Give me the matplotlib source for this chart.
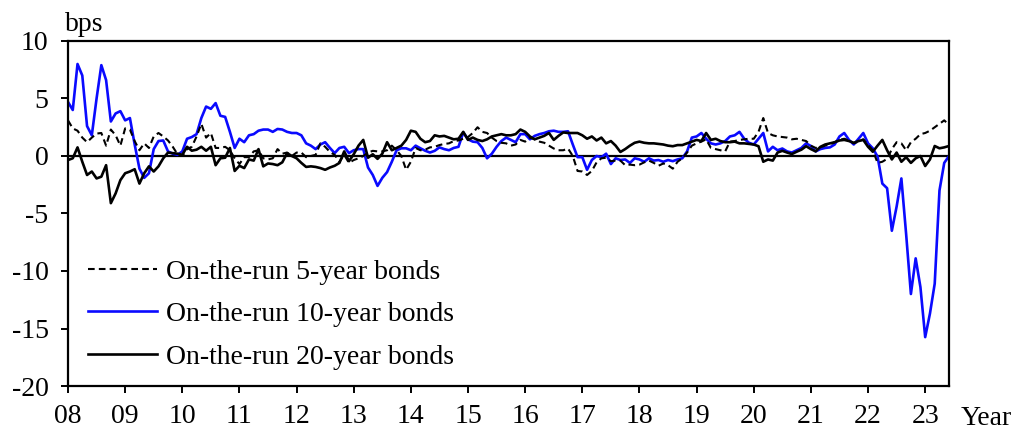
#!/usr/bin/env python3
"""Liquidity-premium spreads of on-the-run JGBs, 2008-2023 (monthly, bps)."""

import matplotlib

matplotlib.use("Agg")
import matplotlib.pyplot as plt
import numpy as np

START_YEAR = 2008
TICK_YEARS = list(range(2008, 2024))
TICK_LABELS = [f"{y % 100:02d}" for y in TICK_YEARS]

# monthly values, Jan 2008 .. Jun 2023 (bps)
bond_5y = [
    3.1, 2.4, 2.2, 1.6, 1.2, 1.6, 1.95, 2.0, 0.9, 2.3, 1.8, 0.9,
    2.4, 2.3, 1.3, 0.5, 1.1, 0.7, 1.7, 2.0, 1.7, 1.35, 0.8, 0.15,
    0.0, 0.6, 0.8, 1.7, 2.8, 1.6, 2.0, 0.7, 0.7, 0.8, 0.5, -0.2,
    -0.7, -0.1, -0.1, 0.4, 0.5, -0.2, -0.3, -0.2, 0.6, 0.2, 0.3, 0.0,
    0.3, 0.3, -0.1, 0.0, 0.1, 1.1, 0.8, 0.35, 0.1, -0.5, 0.1, -0.6,
    -0.35, -0.2, 0.0, 0.3, 0.45, 0.4, 0.4, 0.5, 0.9, 0.5, 0.0, -1.2,
    -0.5, 0.7, 0.5, 0.55, 0.75, 0.8, 0.95, 1.05, 1.1, 1.3, 1.35, 1.5,
    1.65, 2.0, 2.5, 2.1, 2.0, 1.6, 1.3, 1.15, 1.1, 0.9, 1.0, 1.4,
    1.25, 1.6, 1.45, 1.25, 1.15, 0.9, 0.65, 0.5, 0.5, 0.65, 0.0, -1.3,
    -1.35, -1.65, -1.3, -0.55, -0.2, -0.15, -0.45, -0.4, -0.4, -0.8, -0.75, -0.8,
    -0.75, -0.55, -0.4, -0.6, -0.85, -0.65, -0.8, -1.1, -0.5, -0.2, 0.3, 0.9,
    1.1, 1.25, 1.45, 0.7, 0.6, 0.5, 0.4, 1.25, 1.3, 1.4, 1.45, 1.5,
    1.5, 2.1, 3.3, 2.0, 1.8, 1.7, 1.65, 1.6, 1.45, 1.5, 1.4, 1.3,
    0.9, 0.7, 0.75, 0.9, 1.0, 1.2, 1.4, 1.5, 1.35, 1.1, 1.25, 1.45,
    0.96, 0.5, -0.6, -0.5, -0.25, 0.6, 1.2, 1.1, 0.5, 1.2, 1.5, 1.9,
    2.0, 2.2, 2.5, 2.8, 3.1, 2.7,
]

bond_10y = [
    4.7, 4.0, 8.0, 7.0, 2.6, 1.8, 5.0, 7.9, 6.6, 3.0, 3.7, 3.9,
    3.1, 3.3, 1.0, -1.1, -1.9, -1.5, 0.6, 1.3, 1.35, 0.4, 0.2, 0.1,
    0.4, 1.5, 1.65, 1.9, 3.3, 4.3, 4.1, 4.6, 3.5, 3.4, 2.1, 0.7,
    1.5, 1.2, 1.8, 1.9, 2.2, 2.3, 2.3, 2.1, 2.35, 2.3, 2.1, 2.0,
    2.0, 1.8, 1.1, 0.9, 0.6, 1.0, 1.2, 0.7, 0.25, 0.7, 0.8, 0.25,
    0.5, 0.6, 0.6, -1.0, -1.65, -2.6, -1.9, -1.4, -0.5, 0.5, 0.67, 0.67,
    0.5, 0.9, 0.67, 0.46, 0.3, 0.45, 0.75, 0.6, 0.5, 0.7, 0.8, 2.05,
    1.45, 1.25, 1.2, 0.7, -0.2, 0.2, 0.8, 1.3, 1.6, 1.4, 1.2, 1.9,
    1.9, 1.45, 1.75, 1.9, 2.0, 2.15, 2.2, 2.1, 2.1, 2.15, 1.0, -0.1,
    -0.1, -1.2, -0.35, 0.0, -0.1, 0.2, -0.7, -0.2, -0.35, -0.3, -0.6, -0.2,
    -0.3, -0.5, -0.2, -0.4, -0.35, -0.5, -0.35, -0.45, -0.3, -0.2, 0.4, 1.6,
    1.7, 2.0, 1.5, 1.1, 1.0, 1.1, 1.3, 1.7, 1.8, 2.1, 1.5, 1.15,
    1.0, 1.5, 2.0, 0.4, 0.8, 0.5, 0.65, 0.4, 0.3, 0.5, 0.7, 1.1,
    0.87, 0.4, 0.6, 0.7, 0.75, 1.0, 1.7, 2.0, 1.4, 1.0, 1.5, 2.0,
    1.1, 0.67, -0.05, -2.4, -2.8, -6.5, -4.4, -1.95, -6.8, -12.0, -8.9, -11.4,
    -15.75, -13.7, -11.1, -3.0, -0.6, 0.0,
]

bond_20y = [
    -0.35, -0.2, 0.75, -0.5, -1.65, -1.35, -1.95, -1.8, -0.8, -4.1, -3.25, -2.1,
    -1.5, -1.35, -1.15, -2.4, -1.5, -0.9, -1.35, -0.9, -0.2, 0.3, 0.25, 0.2,
    0.1, 0.8, 0.46, 0.55, 0.8, 0.46, 0.8, -0.8, -0.2, -0.15, 0.7, -1.3,
    -0.85, -1.05, -0.3, -0.4, 0.6, -0.9, -0.65, -0.7, -0.8, -0.55, 0.25, 0.0,
    -0.2, -0.6, -0.95, -0.9, -0.95, -1.05, -1.2, -1.0, -0.85, -0.6, 0.4, -0.45,
    0.15, 0.9, 1.4, -0.15, 0.15, -0.25, 0.2, 1.2, 0.5, 0.7, 0.9, 1.4,
    2.2, 2.1, 1.5, 1.2, 1.3, 1.8, 1.7, 1.75, 1.6, 1.45, 1.5, 2.1,
    1.4, 1.6, 1.4, 1.3, 1.45, 1.7, 1.8, 1.9, 1.8, 1.8, 1.9, 2.3,
    2.1, 1.7, 1.45, 1.6, 1.75, 2.0, 1.4, 1.75, 2.05, 2.0, 2.0, 2.0,
    1.8, 1.5, 1.7, 1.35, 1.6, 1.1, 1.3, 0.9, 0.35, 0.6, 0.9, 1.15,
    1.25, 1.15, 1.1, 1.1, 1.05, 1.0, 0.9, 0.85, 0.95, 0.95, 1.1, 1.25,
    1.4, 1.3, 2.0, 1.4, 1.5, 1.3, 1.2, 1.2, 1.25, 1.1, 1.1, 1.05,
    1.0, 0.85, -0.5, -0.3, -0.4, 0.3, 0.45, 0.3, 0.17, 0.37, 0.55, 0.85,
    0.6, 0.4, 0.8, 1.0, 1.1, 1.2, 1.35, 1.4, 1.3, 1.15, 1.3, 1.4,
    0.8, 0.37, 0.9, 1.4, 0.5, -0.3, 0.3, -0.5, -0.1, -0.6, -0.2, 0.0,
    -0.87, -0.3, 0.87, 0.67, 0.75, 0.87,
]

LABELS = [
    "On-the-run 5-year bonds",
    "On-the-run 10-year bonds",
    "On-the-run 20-year bonds",
]

plt.rcParams["font.family"] = ["Liberation Serif", "DejaVu Serif"]
plt.rcParams["font.size"] = 20
plt.rcParams["axes.unicode_minus"] = False

x = START_YEAR + np.arange(len(bond_10y)) / 12.0

fig = plt.figure(figsize=(10.2, 4.32), dpi=100)
ax = fig.add_axes([68 / 1020, 1 - 386 / 432, (949 - 68) / 1020, (386 - 41) / 432])

ax.axhline(0, color="black", lw=1.6, zorder=1)
ax.plot(x, bond_5y, color="black", lw=1.5, ls=(0, (3.2, 2.0)), label=LABELS[0], zorder=3)
ax.plot(x, bond_10y, color="#0a0aff", lw=1.9, label=LABELS[1], zorder=2)
ax.plot(x, bond_20y, color="black", lw=1.9, label=LABELS[2], zorder=4)

ax.set_xlim(x[0], x[-1])
ax.set_ylim(-20, 10)
ax.set_yticks(range(-20, 11, 5))
ax.set_xticks(TICK_YEARS)
ax.set_xticklabels(TICK_LABELS)
ax.tick_params(direction="out", length=5, width=1.4)
ax.tick_params(axis="y", pad=9)
ax.tick_params(axis="x", pad=8)
for s in ax.spines.values():
    s.set_linewidth(1.6)

ax.text(-0.003, 1.012, "bps", transform=ax.transAxes, ha="left", va="bottom")
ax.text(1.013, -0.058, "Year", transform=ax.transAxes, ha="left", va="top")

ax.legend(
    loc="upper left",
    bbox_to_anchor=(0.010, 0.40),
    frameon=False,
    handlelength=2.5,
    handletextpad=0.3,
    labelspacing=0.62,
    borderaxespad=0,
)

fig.savefig("out.png", dpi=100)
